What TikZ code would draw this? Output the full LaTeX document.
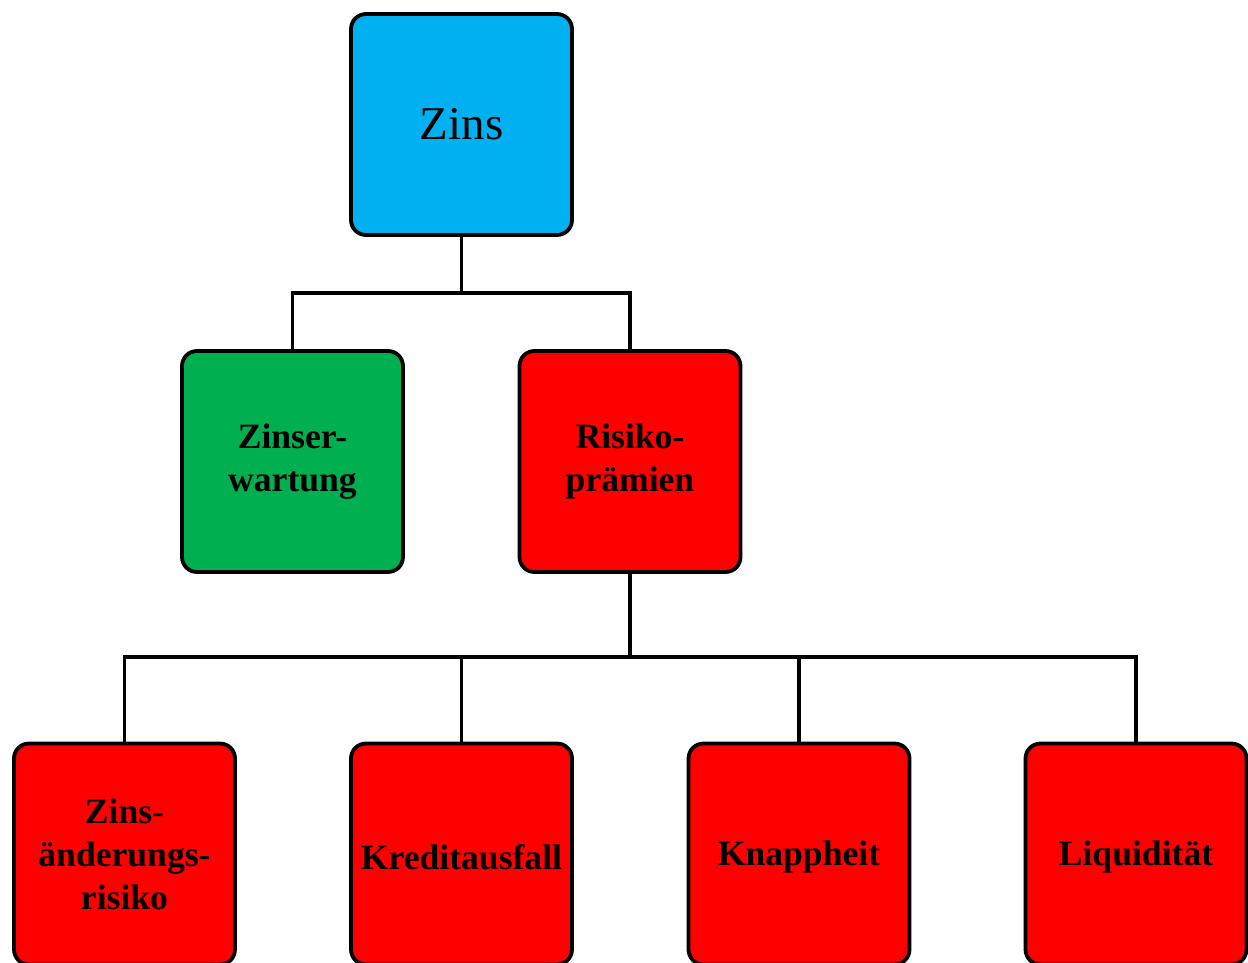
\documentclass[tikz,border=0pt]{standalone}
\usepackage{fontspec}
\setmainfont{Liberation Serif}
\definecolor{zcyan}{HTML}{00B0F0}
\definecolor{zgreen}{HTML}{00B050}
\definecolor{zred}{HTML}{FF0000}
\tikzset{
  box/.style={draw=black, line width=3.8pt, rounded corners=15pt, minimum width=221pt, minimum height=221pt, align=center, inner sep=0pt},
  boldtxt/.style={font=\fontsize{35.6}{43}\selectfont\bfseries, execute at begin node={\rule{0pt}{31pt}}},
  conn/.style={draw=black, line width=3.3pt}
}
\begin{document}
\begin{tikzpicture}[x=1pt,y=-1pt]
\useasboundingbox (0,0) rectangle (1248,962);
\clip (0,0) rectangle (1248,962);
\node[box, fill=zcyan, font=\fontsize{47}{56}\selectfont] (zins) at (461.5,124.5) {Zins};
\node[box, fill=zgreen, boldtxt] (ze) at (292.5,461.5) {Zinser-\\wartung};
\node[box, fill=zred, boldtxt] (rp) at (630,461.5) {Risiko-\\prämien};
\node[box, fill=zred, boldtxt] (zr) at (124.5,854) {Zins-\\änderungs-\\risiko};
\node[box, fill=zred, boldtxt] (ka) at (461.5,854) {Kreditausfall};
\node[box, fill=zred, boldtxt] (kn) at (799,854) {Knappheit};
\node[box, fill=zred, boldtxt] (lq) at (1136,854) {Liquidität};
\coordinate (j1) at (461.5,293);
\coordinate (j2) at (630,657);
\draw[conn] (zins.south) -- (j1);
\draw[conn] (j1) -| (ze.north);
\draw[conn] (j1) -| (rp.north);
\draw[conn] (rp.south) -- (j2);
\draw[conn] (j2) -| (zr.north);
\draw[conn] (j2) -| (ka.north);
\draw[conn] (j2) -| (kn.north);
\draw[conn] (j2) -| (lq.north);
\end{tikzpicture}
\end{document}
